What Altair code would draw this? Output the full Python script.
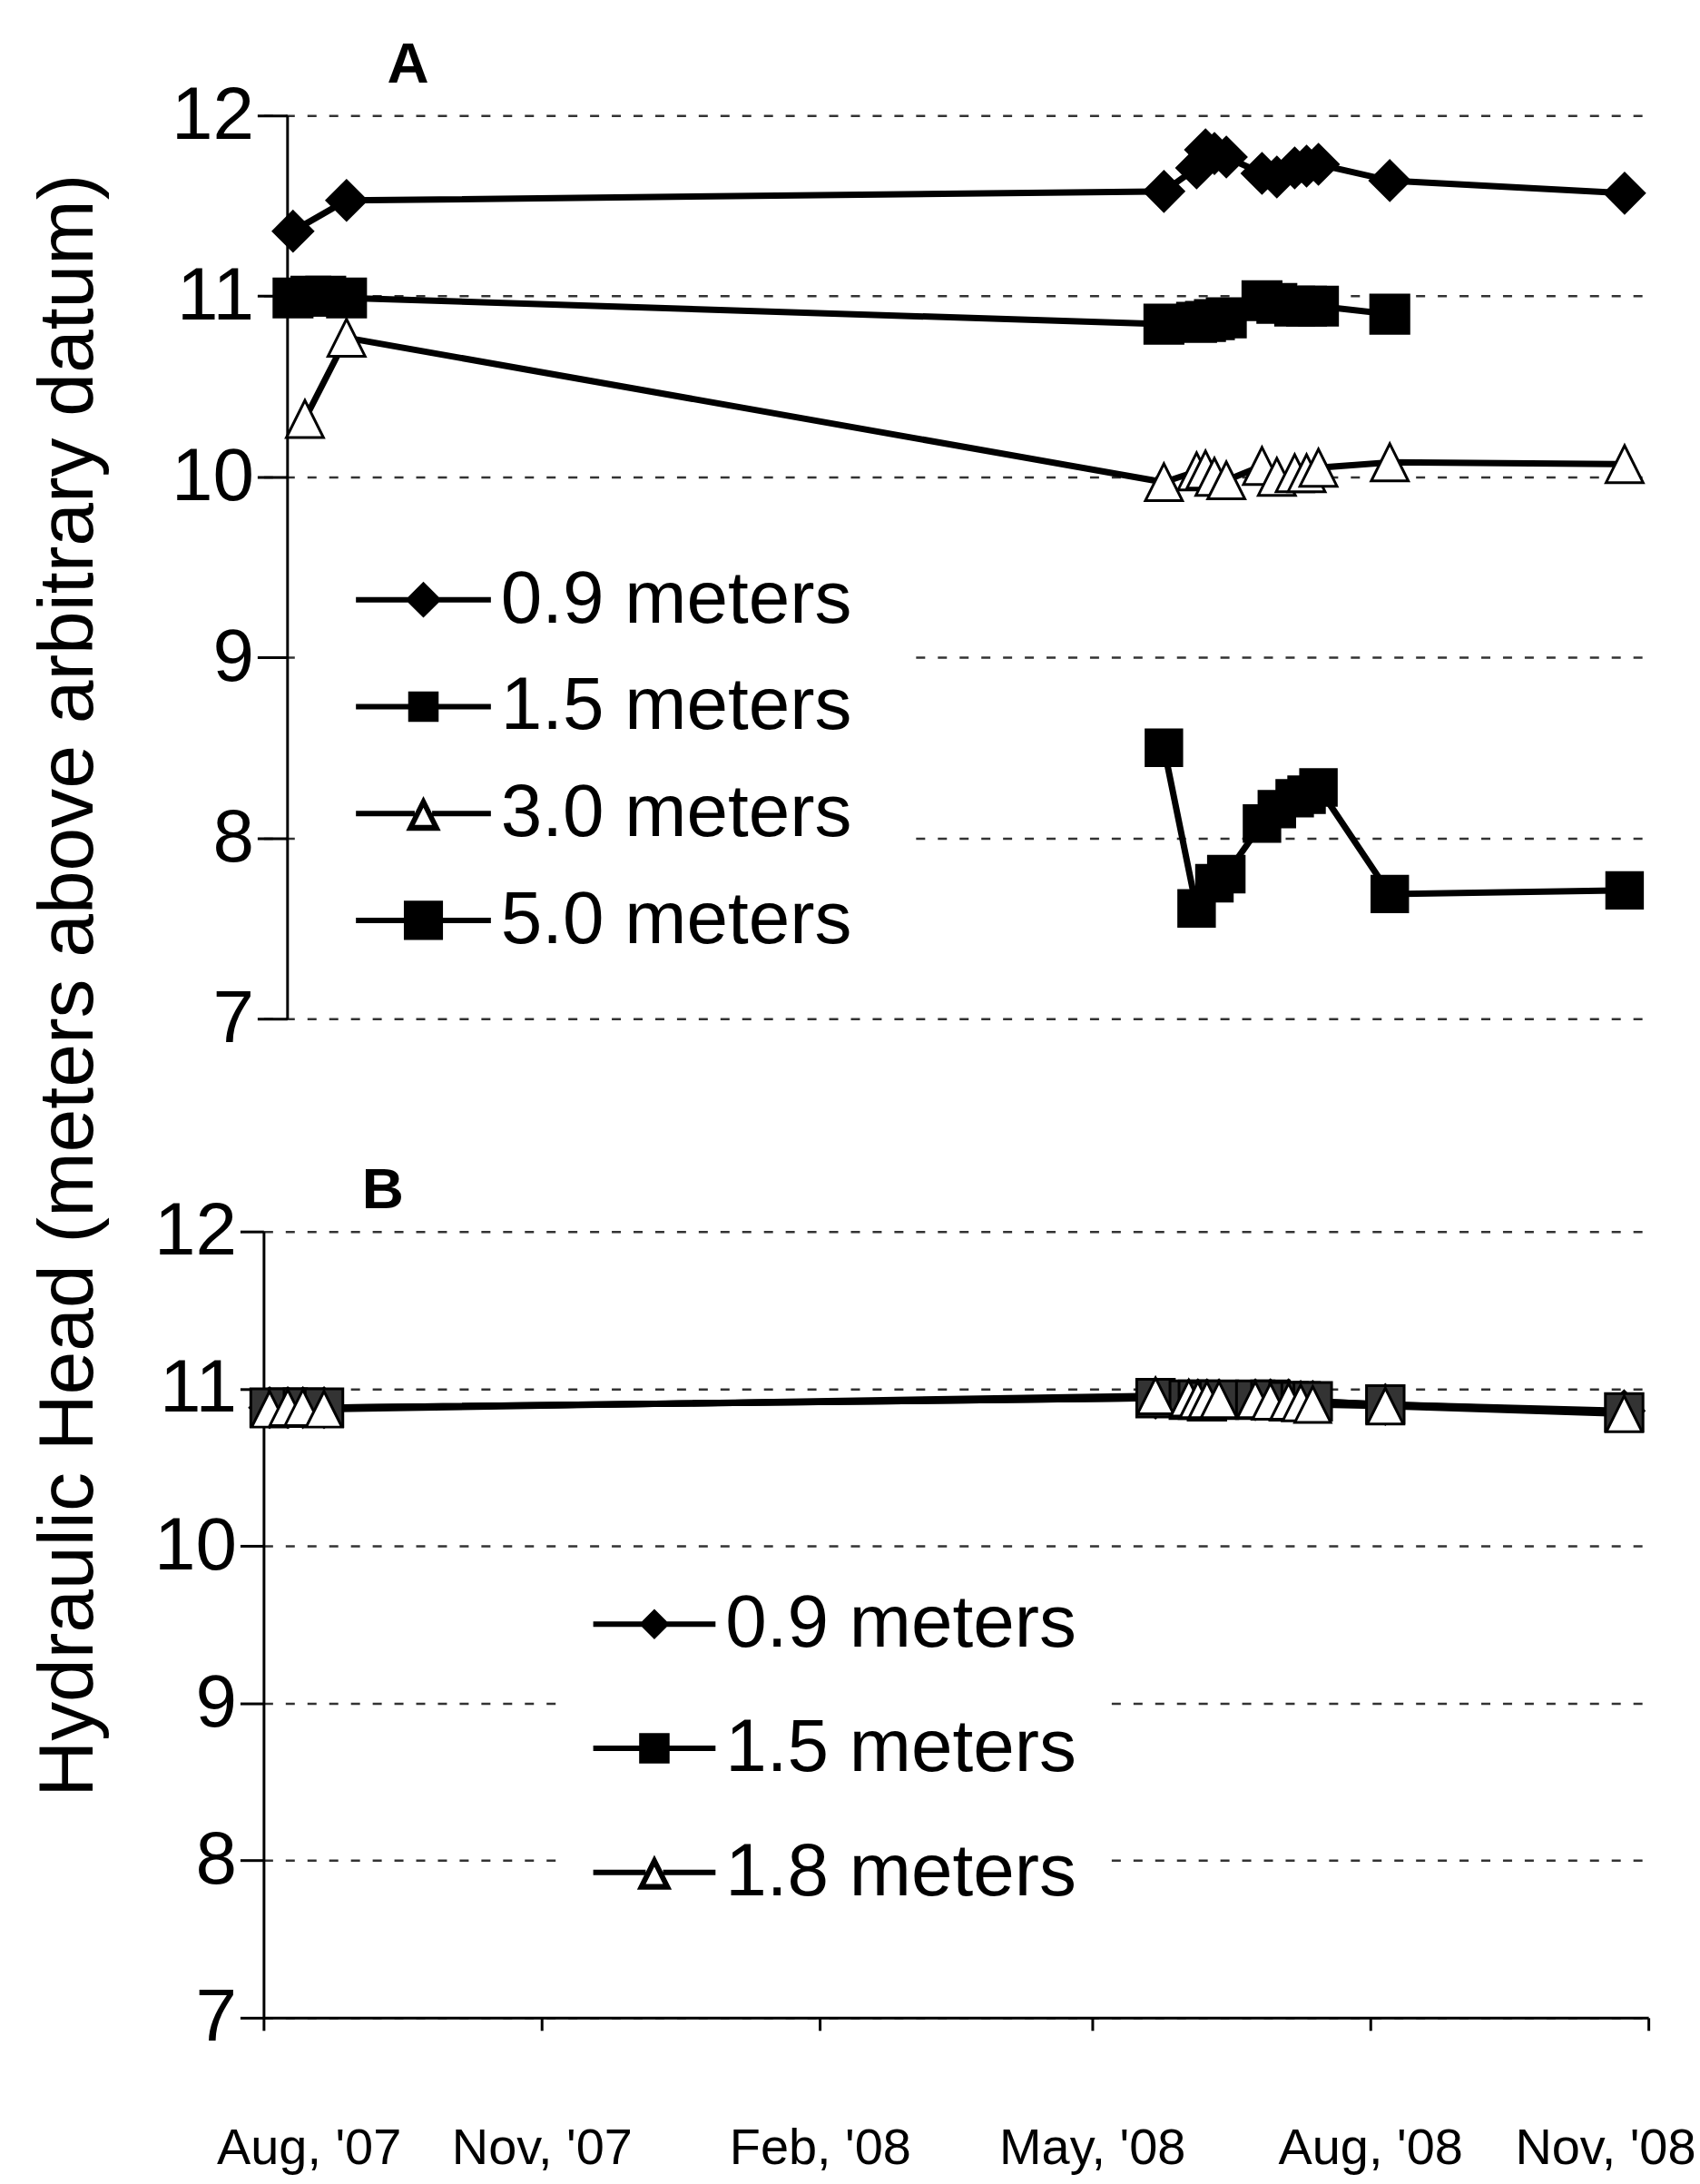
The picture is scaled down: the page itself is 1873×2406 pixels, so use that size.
import altair as alt
import pandas as pd

# ---------------- data ----------------
A_SERIES = ["0.9 meters", "1.5 meters", "3.0 meters", "5.0 meters"]
B_SERIES = ["0.9 meters", "1.5 meters", "1.8 meters"]

LATE = ["2008-05-22", "2008-06-02", "2008-06-05", "2008-06-08", "2008-06-12",
        "2008-06-24", "2008-06-29", "2008-07-05", "2008-07-09", "2008-07-13",
        "2008-08-06", "2008-10-24"]

a09_dates = ["2007-08-03", "2007-08-21"] + LATE
a09_vals = [11.36, 11.53, 11.58, 11.71, 11.81, 11.79, 11.77, 11.68, 11.66,
            11.71, 11.72, 11.73, 11.64, 11.57]

a15_dates = ["2007-08-03", "2007-08-09", "2007-08-14", "2007-08-21"] + LATE[:11]
a15_vals = [10.99, 11.00, 11.00, 10.99, 10.845, 10.855, 10.86, 10.87, 10.88,
            10.975, 10.96, 10.945, 10.945, 10.945, 10.90]

a30_dates = ["2007-08-07", "2007-08-21"] + LATE
a30_vals = [10.32, 10.77, 9.97, 10.03, 10.04, 10.00, 9.98, 10.06, 10.00,
            10.02, 10.02, 10.05, 10.08, 10.07]

a50_dates = ["2008-05-22", "2008-06-02", "2008-06-08", "2008-06-12", "2008-06-24",
             "2008-06-29", "2008-07-05", "2008-07-09", "2008-07-13", "2008-08-06",
             "2008-10-24"]
a50_vals = [8.50, 7.61, 7.75, 7.80, 8.08, 8.16, 8.22, 8.24, 8.28, 7.69, 7.71]

b_dates = ["2007-08-03", "2007-08-09", "2007-08-14", "2007-08-21"] + LATE
b09_vals = [10.88, 10.88, 10.88, 10.88, 10.94, 10.93, 10.93, 10.93, 10.93,
            10.93, 10.93, 10.93, 10.92, 10.92, 10.90, 10.86]
b15_vals = [10.88, 10.88, 10.88, 10.88, 10.94, 10.93, 10.93, 10.92, 10.93,
            10.93, 10.93, 10.92, 10.92, 10.92, 10.90, 10.85]
b18_vals = [10.87, 10.88, 10.88, 10.87, 10.955, 10.94, 10.93, 10.93, 10.93,
            10.93, 10.92, 10.92, 10.91, 10.90, 10.89, 10.84]

Y_TICKS = [7, 8, 9, 10, 11, 12]
X_TICKS = [(2007, 8), (2007, 11), (2008, 2), (2008, 5), (2008, 8), (2008, 11)]
Y_TITLE = "Hydraulic Head (meters above arbitrary datum)"

# ---------------- tables ----------------
def frame(pairs):
    rows = []
    for name, dates, vals in pairs:
        for d, v in zip(dates, vals):
            rows.append({"series": name, "date": d + "T00:00:00", "value": v})
    return pd.DataFrame(rows)

dfA = frame([(A_SERIES[0], a09_dates, a09_vals), (A_SERIES[1], a15_dates, a15_vals),
             (A_SERIES[2], a30_dates, a30_vals), (A_SERIES[3], a50_dates, a50_vals)])
dfB = frame([(B_SERIES[0], b_dates, b09_vals), (B_SERIES[1], b_dates, b15_vals),
             (B_SERIES[2], b_dates, b18_vals)])

# ---------------- styling helpers ----------------
FONT = "Liberation Sans, Arial, Helvetica, sans-serif"
W = 1529
HA, HB = 997, 868
LEG_SIZE = 6400  # legend symbol unit = 40 px

# marker paths for the data points (unit box = sqrt(size))
P_DIAMOND = "M0,-1L1,0L0,1L-1,0Z"
P_SQUARE = "M-1,-1L1,-1L1,1L-1,1Z"
P_TRIANGLE = "M0,-1L1,1L-1,1Z"


def rect(x0, x1, t=0.075):
    return f"M{x0:.4f},{-t:.4f}L{x1:.4f},{-t:.4f}L{x1:.4f},{t:.4f}L{x0:.4f},{t:.4f}Z"


def leg_diamond(L, d):
    return rect(-L, L) + f"M0,{-d}L{d},0L0,{d}L{-d},0Z"


def leg_square(L, s):
    return rect(-L, L) + f"M{-s},{-s}L{s},{-s}L{s},{s}L{-s},{s}Z"


def leg_triangle(L, w, delta=0.1):
    h = w  # height == width, like the data markers
    c = h / 3.0
    r_in = 2 * h / 3.0 * 0.62
    k = max(0.3, 1 - delta / r_in)
    ty = c + k * (-h - c)
    by = c + k * (h - c)
    iw = k * w
    outer = f"M0,{-h:.4f}L{w:.4f},{h:.4f}L{-w:.4f},{h:.4f}Z"
    inner = f"M0,{ty:.4f}L{-iw:.4f},{by:.4f}L{iw:.4f},{by:.4f}Z"
    return rect(-L, -w / 2) + rect(w / 2, L) + outer + inner


def y_axis(tick, offset, title, tx, ty, size, weight, angle, align):
    return alt.Axis(values=Y_TICKS, format="d", grid=True, gridDash=[10, 14],
                    gridColor="#333", gridWidth=2.5, tickSize=tick, tickWidth=3,
                    tickColor="black", domainColor="black", domainWidth=3,
                    labelFont=FONT, labelFontSize=82, labelColor="black",
                    labelPadding=4, offset=offset,
                    title=title, titleFont=FONT, titleFontSize=size,
                    titleFontWeight=weight, titleColor="black", titleX=tx, titleY=ty,
                    titleAngle=angle, titleAlign=align, titleBaseline="alphabetic")


def panel(df, series, shapes, fills, sizes, leg_paths, x_scale, x_axis, yax,
          height, leg_x, leg_y, leg_pad, row_pad, sym_off, lab_off):
    base = alt.Chart(df)
    x = alt.X("date:T", scale=x_scale, axis=x_axis)
    y = alt.Y("value:Q", scale=alt.Scale(domain=[7, 12]), axis=yax)
    lines = base.mark_line(color="black", strokeWidth=7).encode(
        x=x, y=y, detail="series:N")
    pts = base.mark_point(filled=True, stroke="black", strokeWidth=3, opacity=1).encode(
        x=x, y=y,
        shape=alt.Shape("series:N", scale=alt.Scale(domain=series, range=shapes), legend=None),
        fill=alt.Fill("series:N", scale=alt.Scale(domain=series, range=fills), legend=None),
        size=alt.Size("series:N", scale=alt.Scale(domain=series, range=sizes), legend=None),
    )
    leg = base.mark_point(filled=True, fill="black", stroke="black", strokeWidth=3,
                          opacity=1, size=LEG_SIZE).encode(
        shape=alt.Shape("series:N", scale=alt.Scale(domain=series, range=leg_paths),
                        legend=alt.Legend(orient="none", legendX=leg_x, legendY=leg_y,
                                          title=None, direction="vertical",
                                          labelFont=FONT, labelFontSize=82,
                                          labelColor="black", labelLimit=0,
                                          symbolSize=LEG_SIZE, symbolStrokeWidth=3,
                                          symbolStrokeColor="black",
                                          symbolFillColor="black", symbolOpacity=1,
                                          symbolOffset=sym_off, labelOffset=lab_off,
                                          rowPadding=row_pad, padding=leg_pad,
                                          fillColor="white", strokeColor="white"))
    ).transform_filter("false")
    return alt.layer(lines, pts, leg).resolve_scale(
        shape="independent", fill="independent", size="independent"
    ).resolve_legend(shape="independent").properties(width=W, height=height)


END = alt.DateTime(year=2008, month=11, date=1)

# Panel A
LA = 1.8625
a_legend = [leg_diamond(LA, 0.5), leg_square(LA, 0.42), leg_triangle(LA, 0.48),
            leg_square(LA, 0.54)]
chartA = panel(
    dfA, A_SERIES,
    shapes=[P_DIAMOND, P_SQUARE, P_TRIANGLE, P_SQUARE],
    fills=["black", "black", "white", "black"],
    sizes=[1890, 1560, 1400, 2100],
    leg_paths=a_legend,
    x_scale=alt.Scale(domain=[alt.DateTime(year=2007, month=7, date=24, hours=2), END]),
    x_axis=None,
    yax=y_axis(33, -26, "A", 110, -37, 64, "bold", 0, "left"),
    height=HA, leg_x=42, leg_y=433, leg_pad=60, row_pad=35, sym_off=33, lab_off=44)

# Panel B
LB = 1.6875
b_legend = [leg_diamond(LB, 0.42), leg_square(LB, 0.42), leg_triangle(LB, 0.48)]
x_axis_b = alt.Axis(values=[alt.DateTime(year=yy, month=mm, date=1) for yy, mm in X_TICKS],
                    format="%b, '%y", grid=False, tickSize=14, tickWidth=3,
                    tickColor="black", domainColor="black", domainWidth=3,
                    labelFont=FONT, labelFontSize=56, labelColor="black", labelLimit=0,
                    labelBaseline="alphabetic", labelPadding=147, labelFlush=True,
                    labelFlushOffset=52,
                    title="B", titleFont=FONT, titleFontSize=64, titleFontWeight="bold",
                    titleColor="black", titleX=108, titleY=-(HB + 26), titleAngle=0,
                    titleAlign="left", titleBaseline="alphabetic")
chartB = panel(
    dfB, B_SERIES,
    shapes=[P_DIAMOND, P_SQUARE, P_TRIANGLE],
    fills=["black", "#333333", "white"],
    sizes=[1890, 1560, 900],
    leg_paths=b_legend,
    x_scale=alt.Scale(domain=[alt.DateTime(year=2007, month=8, date=1), END]),
    x_axis=x_axis_b,
    yax=y_axis(26, 0, Y_TITLE, -189, -272, 86, "normal", 270, "center"),
    height=HB, leg_x=334, leg_y=362, leg_pad=30, row_pad=54, sym_off=26, lab_off=37)

chart = alt.vconcat(chartA, chartB, spacing=235, bounds="flush").resolve_scale(
    x="independent", y="independent", shape="independent", fill="independent",
    size="independent"
).resolve_legend(shape="independent").properties(
    padding={"left": 32, "top": 37, "right": 5, "bottom": 5},
    background="white"
).configure_view(stroke=None)

chart.save("out.html", embed_options={"renderer": "svg", "actions": False})
